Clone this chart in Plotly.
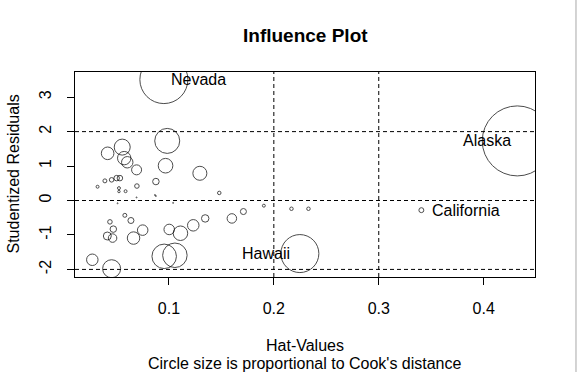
import numpy as np
import plotly.graph_objects as go

# ---- data ----
hat_values = [0.0952, 0.0984, 0.0416, 0.0555, 0.0574, 0.0603, 0.0692, 0.0968, 0.1295,
              0.0390, 0.0320, 0.0454, 0.0502, 0.0533, 0.0524, 0.0524, 0.0587, 0.0695,
              0.0876, 0.1480, 0.0692, 0.0876, 0.0511, 0.1905, 0.2168, 0.2330, 0.3406,
              0.4320, 0.2248, 0.0580, 0.0638, 0.0438, 0.0470, 0.0413, 0.0463, 0.0663,
              0.0750, 0.1003, 0.1110, 0.1232, 0.1346, 0.1600, 0.1710, 0.0955, 0.1057,
              0.0270, 0.0454, 0.0867, 0.1040]
stud_resid = [3.51, 1.73, 1.37, 1.55, 1.23, 1.11, 0.89, 1.01, 0.79,
              0.57, 0.40, 0.60, 0.65, 0.65, 0.36, 0.26, 0.27, 0.42,
              0.55, 0.22, 0.09, 0.13, -0.08, -0.15, -0.24, -0.24, -0.28,
              1.73, -1.54, -0.43, -0.58, -0.62, -0.83, -1.03, -1.09, -1.09,
              -0.86, -0.84, -0.95, -0.72, -0.52, -0.52, -0.32, -1.62, -1.59,
              -1.72, -1.98, 0.16, -0.07]
cooks_d = [0.2351, 0.0638, 0.0162, 0.0261, 0.0183, 0.0133, 0.0102, 0.0218, 0.0200,
           0.0016, 0.0009, 0.0021, 0.0031, 0.0031, 0.0009, 0.0006, 0.0009, 0.0021,
           0.0043, 0.00125, 0.0001, 0.0001, 0.0001, 0.0009, 0.00125, 0.00125, 0.0025,
           0.5000, 0.1473, 0.0016, 0.0037, 0.0021, 0.0043, 0.0065, 0.0074, 0.0159,
           0.0113, 0.0113, 0.0215, 0.0135, 0.0057, 0.0092, 0.0037, 0.0613, 0.0613,
           0.0135, 0.0331, 0.0001, 0.0001]
label_names = ["Nevada", "Alaska", "Hawaii", "California"]
label_index = [0, 27, 28, 26]
x_ticks = [0.1, 0.2, 0.3, 0.4]
y_ticks = [-2, -1, 0, 1, 2, 3]
hat_cutoffs = [0.2, 0.3]
resid_cutoffs = [-2, 0, 2]

# ---- figure ----
cd = np.array(cooks_d)
diam = 70 * np.sqrt(cd / cd.max())
diam = np.maximum(diam, 1.0)

fig = go.Figure()
fig.add_trace(go.Scatter(
    x=hat_values, y=stud_resid, mode="markers",
    marker=dict(size=diam, sizemode="diameter", color="rgba(0,0,0,0)",
                line=dict(color="black", width=1)),
    cliponaxis=True, hoverinfo="skip", showlegend=False))

font_name = "Liberation Sans, Arial, sans-serif"
fs = 16

for v in hat_cutoffs:
    fig.add_shape(type="line", xref="x", yref="paper", x0=v, x1=v, y0=0, y1=1,
                  line=dict(color="black", width=1, dash="4px,3px"))
for v in resid_cutoffs:
    fig.add_shape(type="line", xref="paper", yref="y", x0=0, x1=1, y0=v, y1=v,
                  line=dict(color="black", width=1, dash="4px,3px"))

# point labels
offsets = {"Nevada": ("left", 5), "Alaska": ("right", -4),
           "Hawaii": ("right", -8), "California": ("left", 9)}
for name, idx in zip(label_names, label_index):
    anchor, shift = offsets[name]
    fig.add_annotation(x=hat_values[idx], y=stud_resid[idx], text=name, showarrow=False,
                       xanchor=anchor, yanchor="middle", xshift=shift,
                       font=dict(family=font_name, size=fs, color="black"))

# titles
fig.add_annotation(x=0.5, y=1, xref="paper", yref="paper", yshift=37, text="<b>Influence Plot</b>",
                   showarrow=False, yanchor="middle", font=dict(family=font_name, size=19, color="black"))
fig.add_annotation(x=0.5, y=0, xref="paper", yref="paper", yshift=-68, text="Hat-Values",
                   showarrow=False, yanchor="middle", font=dict(family=font_name, size=fs, color="black"))
fig.add_annotation(x=0.5, y=0, xref="paper", yref="paper", yshift=-86,
                   text="Circle size is proportional to Cook's distance",
                   showarrow=False, yanchor="middle", font=dict(family=font_name, size=fs, color="black"))
fig.add_annotation(x=0, y=0.5, xref="paper", yref="paper", xshift=-62, text="Studentized Residuals",
                   textangle=-90, showarrow=False, xanchor="center", yanchor="middle",
                   font=dict(family=font_name, size=fs, color="black"))

# gray window edge at right
fig.add_shape(type="line", xref="paper", yref="paper", x0=1.0891, x1=1.0891, y0=-0.4634, y1=1.3512,
              line=dict(color="#a8a8a8", width=1))

fig.update_xaxes(range=[0.0105, 0.4489], tickvals=x_ticks, ticktext=[str(t) for t in x_ticks],
                 ticks="outside", ticklen=7, tickcolor="black", showline=True, linecolor="black",
                 linewidth=1, mirror=True, showgrid=False, zeroline=False,
                 tickfont=dict(family=font_name, size=fs, color="black"), ticklabelstandoff=10)
fig.update_yaxes(range=[-2.22, 3.73], tickvals=y_ticks, ticktext=[str(t) for t in y_ticks],
                 ticks="outside", ticklen=7, tickcolor="black", showline=True, linecolor="black",
                 linewidth=1, mirror=True, showgrid=False, zeroline=False, tickangle=-90,
                 tickfont=dict(family=font_name, size=fs, color="black"), ticklabelstandoff=10)

fig.update_layout(width=577, height=372, margin=dict(l=75, r=42, t=72, b=95),
                  paper_bgcolor="white", plot_bgcolor="white", showlegend=False)

fig.write_html("out.html", config={"displayModeBar": False},
               post_script="document.body.style.margin='0';document.body.style.padding='0';"
                           "document.body.style.overflow='hidden';")
